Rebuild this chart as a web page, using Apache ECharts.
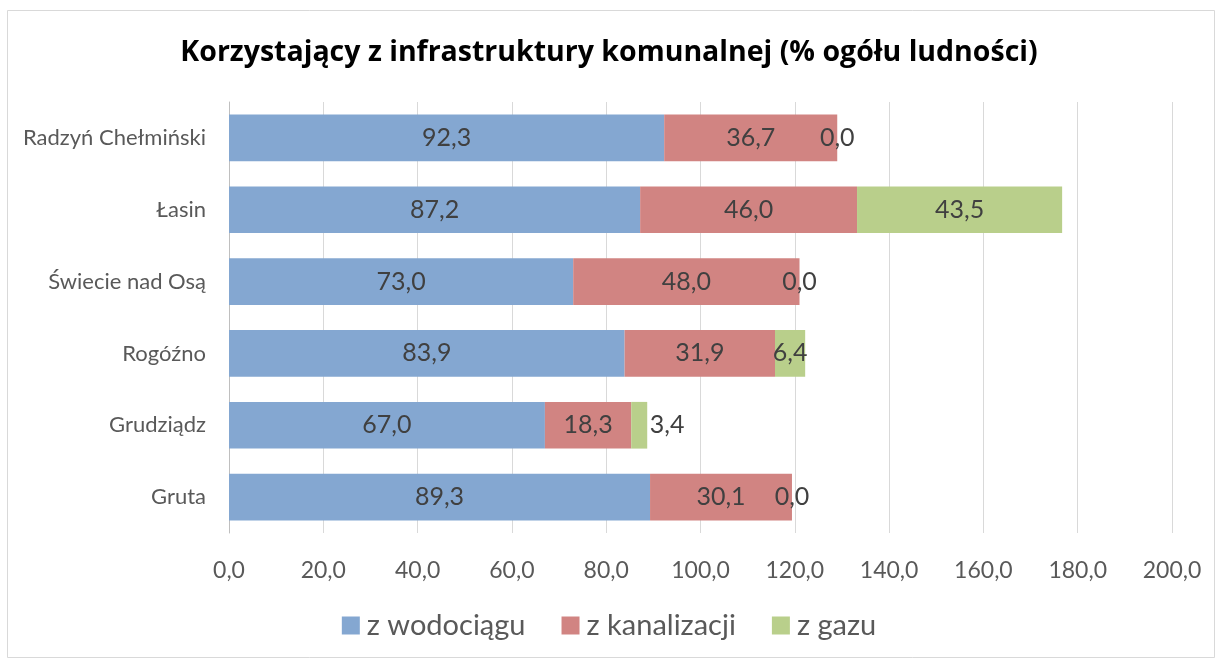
<!DOCTYPE html>
<html>
<head>
<meta charset="utf-8">
<script src="https://cdn.jsdelivr.net/npm/echarts@6/dist/echarts.min.js"></script>
<style>
  html, body { margin: 0; padding: 0; background: #fff; }
  #chart { width: 1218px; height: 661px; }
</style>
</head>
<body>
<div id="chart"></div>
<script>
// gminy (od dołu osi, tak jak liczy ECharts)
var gminy = ['Gruta', 'Grudziądz', 'Rogóźno', 'Świecie nad Osą', 'Łasin', 'Radzyń Chełmiński'];
var wodociag = [89.3, 67.0, 83.9, 73.0, 87.2, 92.3];
var kanalizacja = [30.1, 18.3, 31.9, 48.0, 46.0, 36.7];
var gaz = [0.0, 3.4, 6.4, 0.0, 43.5, 0.0];
var nazwySerii = ['z wodociągu', 'z kanalizacji', 'z gazu'];
var kolory = ['#84a7d1', '#d18482', '#b9cf8b'];

var font = 'Lato, "Open Sans", sans-serif';

function fmt(v) {
    return v.toFixed(1).replace('.', ',');
}

function seria(i, dane) {
    return {
        name: nazwySerii[i],
        type: 'bar',
        stack: 'suma',
        barCategoryGap: '35%',
        itemStyle: { color: kolory[i] },
        label: {
            show: true,
            position: 'inside',
            color: '#404040',
            fontSize: 25,
            fontFamily: font,
            formatter: function (p) { return fmt(p.value); }
        },
        data: dane.map(function (v) {
            // Excel przesuwa etykietę, gdy nie mieści się w wąskim odcinku
            if (i === 2 && v > 0 && v < 5) {
                return { value: v, label: { offset: [28, 0] } };
            }
            return v;
        })
    };
}

var myChart = echarts.init(document.getElementById('chart'));
var option = {
    animation: false,
    backgroundColor: '#fff',
    textStyle: { fontFamily: font },
    graphic: [{
        type: 'rect',
        shape: { x: 7.5, y: 10.5, width: 1207, height: 647 },
        style: { fill: 'none', stroke: '#d9d9d9', lineWidth: 1 },
        silent: true
    }],
    title: {
        text: 'Korzystający z infrastruktury komunalnej (% ogółu ludności)',
        left: 'center',
        top: 33,
        textStyle: {
            fontFamily: '"Open Sans", sans-serif',
            fontWeight: 'bold',
            fontSize: 28.5,
            color: '#000'
        }
    },
    legend: {
        bottom: 16,
        left: 'center',
        itemWidth: 18,
        itemHeight: 18,
        itemGap: 36,
        icon: 'rect',
        textStyle: { fontSize: 29, color: '#595959', fontFamily: font, padding: [0, 0, 0, 2] },
        data: nazwySerii
    },
    grid: {
        left: 229,
        right: 46,
        top: 102,
        bottom: 128
    },
    xAxis: {
        type: 'value',
        min: 0,
        max: 200,
        interval: 20,
        axisLine: { show: false },
        axisTick: { show: false },
        splitLine: { lineStyle: { color: '#d9d9d9', width: 1 } },
        axisLabel: {
            margin: 26,
            fontSize: 23,
            color: '#595959',
            formatter: function (v) { return fmt(v); }
        }
    },
    yAxis: {
        type: 'category',
        data: gminy,
        axisLine: { show: true, lineStyle: { color: '#bfbfbf', width: 1 } },
        axisTick: { show: false },
        axisLabel: { margin: 23, fontSize: 22, color: '#595959' }
    },
    series: [
        seria(0, wodociag),
        seria(1, kanalizacja),
        seria(2, gaz)
    ]
};
option && myChart.setOption(option);
</script>
</body>
</html>
